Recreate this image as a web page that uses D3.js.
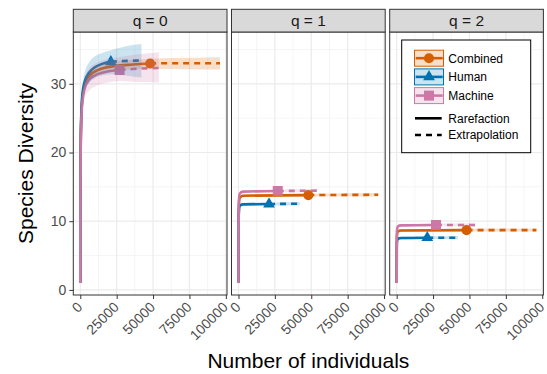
<!DOCTYPE html>
<html>
<head>
<meta charset="utf-8">
<script src="https://cdn.jsdelivr.net/npm/d3@7"></script>
<style>
  body { margin: 0; background: #fff; }
  text { font-family: "Liberation Sans", Arial, Helvetica, sans-serif; }
</style>
</head>
<body>
<script>
  var w = 547; //svg width
  var h = 374; //svg height

  //DATA
  var facets = ["q = 0", "q = 1", "q = 2"];
  var sites = ["Combined", "Human", "Machine"];
  var siteColors = ["#D55E00", "#0072B2", "#CC79A7"];
  var siteShapes = [d3.symbolCircle, d3.symbolTriangle, d3.symbolSquare];
  var sampleSize = [48000, 21000, 27000]; //reference sample sizes
  var methods = ["Rarefaction", "Extrapolation"];
  var xTicks = [0, 25000, 50000, 75000, 100000];
  var yTicks = [0, 10, 20, 30];

  //rows are [m, qD, lower CI, upper CI]
  var combinedQ0 = [[1, 1, 1, 1], [100, 13.5, 13, 14], [300, 21, 20.4, 21.6], [700, 25, 24.4, 25.6],
      [1500, 28, 27.3, 28.7], [3000, 29.9, 29.2, 30.6], [6000, 31.1, 30.4, 31.8], [12000, 32, 31.3, 32.7],
      [24000, 32.6, 31.9, 33.3], [36000, 32.8, 32.1, 33.5], [48000, 32.95, 32.2, 33.65],
      [64000, 33, 32.15, 33.75], [80000, 33, 32.1, 33.8], [96000, 33, 32.1, 33.85]];
  var humanQ0 = [[1, 1, 1, 1], [100, 14, 13, 15], [300, 21.5, 20.5, 22.5], [700, 25.5, 24.5, 26.5],
      [1500, 28.5, 27.3, 29.7], [3000, 30.3, 29, 31.6], [6000, 31.6, 30.1, 33.1], [10000, 32.4, 30.8, 34],
      [15000, 32.9, 31.2, 34.5], [21000, 33.2, 31.4, 34.9], [28000, 33.3, 31.3, 35.3],
      [35000, 33.35, 31.1, 35.6], [42000, 33.4, 30.9, 35.8]];
  var machineQ0 = [[1, 1, 1, 1], [100, 13, 12.5, 13.5], [300, 20.5, 19.5, 21.5], [700, 24.5, 23.5, 25.5],
      [1500, 27.5, 26.3, 28.7], [3000, 29.3, 27.9, 30.7], [6000, 30.6, 29, 32.2], [12000, 31.4, 29.8, 33.1],
      [19000, 31.8, 30.2, 33.6], [27000, 32, 30.4, 33.9], [36000, 32.15, 30.3, 34.2],
      [45000, 32.25, 30.25, 34.4], [54000, 32.3, 30.2, 34.6]];

  var combinedQ1 = [[1, 1, 1, 1], [50, 8.5, 8.3, 8.7], [200, 12, 11.8, 12.2], [800, 13.4, 13.2, 13.6],
      [3000, 13.7, 13.5, 13.9], [48000, 13.8, 13.6, 14], [96000, 13.85, 13.6, 14.1]];
  var humanQ1 = [[1, 1, 1, 1], [50, 8, 7.8, 8.2], [200, 11, 10.8, 11.2], [800, 12.2, 12, 12.4],
      [3000, 12.45, 12.25, 12.65], [21000, 12.5, 12.3, 12.7], [42000, 12.55, 12.3, 12.8]];
  var machineQ1 = [[1, 1, 1, 1], [50, 9, 8.8, 9.2], [200, 12.6, 12.4, 12.8], [800, 14, 13.8, 14.2],
      [3000, 14.3, 14.1, 14.5], [27000, 14.4, 14.2, 14.6], [54000, 14.45, 14.2, 14.7]];

  var combinedQ2 = [[1, 1, 1, 1], [50, 6.5, 6.3, 6.7], [200, 8, 7.8, 8.2], [800, 8.5, 8.3, 8.7],
      [3000, 8.65, 8.45, 8.85], [48000, 8.7, 8.5, 8.9], [96000, 8.7, 8.5, 8.95]];
  var humanQ2 = [[1, 1, 1, 1], [50, 5.8, 5.6, 6], [200, 7, 6.8, 7.2], [800, 7.45, 7.25, 7.65],
      [3000, 7.55, 7.35, 7.75], [21000, 7.6, 7.4, 7.8], [42000, 7.6, 7.35, 7.85]];
  var machineQ2 = [[1, 1, 1, 1], [50, 7, 6.8, 7.2], [200, 8.7, 8.5, 8.9], [800, 9.25, 9.05, 9.45],
      [3000, 9.4, 9.2, 9.6], [27000, 9.45, 9.25, 9.65], [54000, 9.45, 9.2, 9.7]];

  var curves = [[combinedQ0, humanQ0, machineQ0],
      [combinedQ1, humanQ1, machineQ1],
      [combinedQ2, humanQ2, machineQ2]];

  //LAYOUT
  var panelLeft = 73.3;
  var panelTop = 32;
  var panelW = 153.7;
  var panelH = 263;
  var panelGap = 4.5;
  var stripH = 22.7;

  //SCALES (ggplot style 5% expansion)
  var allRows = d3.merge(d3.merge(curves));
  var xExt = d3.extent(allRows, function(d) { return d[0]; });
  var yExt = [d3.min(allRows, function(d) { return d[2]; }), d3.max(allRows, function(d) { return d[3]; })];
  var xPad = (xExt[1] - xExt[0]) * 0.05;
  var yPad = (yExt[1] - yExt[0]) * 0.05;

  var x = d3.scaleLinear()
      .domain([xExt[0] - xPad, xExt[1] + xPad])
      .range([0, panelW]);

  var y = d3.scaleLinear()
      .domain([yExt[0] - yPad, yExt[1] + yPad])
      .range([panelH, 0]);

  var xMinor = [12500, 37500, 62500, 87500];
  var yMinor = [5, 15, 25, 35];

  var line = d3.line()
      .x(function(d) { return x(d[0]); })
      .y(function(d) { return y(d[1]); })
      .curve(d3.curveMonotoneX);

  var band = d3.area()
      .x(function(d) { return x(d[0]); })
      .y0(function(d) { return y(d[2]); })
      .y1(function(d) { return y(d[3]); })
      .curve(d3.curveMonotoneX);

  var shapeSizes = [80, 60, 100];
  var symbol = function(i) {
      return d3.symbol().type(siteShapes[i]).size(shapeSizes[i])();
  };

  var svg = d3.select("body")
      .append("svg")
      .attr("width", w)
      .attr("height", h);

  svg.append("rect").attr("width", w).attr("height", h).attr("fill", "white");

  //PANELS
  facets.forEach(function(facet, fi) {
      var g = svg.append("g")
          .attr("transform", "translate(" + (panelLeft + fi * (panelW + panelGap)) + "," + panelTop + ")");

      //grid
      g.selectAll(".xminor").data(xMinor).enter().append("line")
          .attr("x1", function(d) { return x(d); }).attr("x2", function(d) { return x(d); })
          .attr("y1", 0).attr("y2", panelH)
          .attr("stroke", "#F2F2F2").attr("stroke-width", 0.8);
      g.selectAll(".yminor").data(yMinor).enter().append("line")
          .attr("y1", function(d) { return y(d); }).attr("y2", function(d) { return y(d); })
          .attr("x1", 0).attr("x2", panelW)
          .attr("stroke", "#F2F2F2").attr("stroke-width", 0.8);
      g.selectAll(".xmajor").data(xTicks).enter().append("line")
          .attr("x1", function(d) { return x(d); }).attr("x2", function(d) { return x(d); })
          .attr("y1", 0).attr("y2", panelH)
          .attr("stroke", "#EBEBEB").attr("stroke-width", 1.2);
      g.selectAll(".ymajor").data(yTicks).enter().append("line")
          .attr("y1", function(d) { return y(d); }).attr("y2", function(d) { return y(d); })
          .attr("x1", 0).attr("x2", panelW)
          .attr("stroke", "#EBEBEB").attr("stroke-width", 1.2);

      var sets = curves[fi];

      //lines: rarefaction solid, extrapolation dashed
      sets.forEach(function(rows, si) {
          var n = sampleSize[si];
          var rare = rows.filter(function(d) { return d[0] <= n; });
          var extra = rows.filter(function(d) { return d[0] >= n; });
          g.append("path").datum(rare)
              .attr("d", line)
              .attr("fill", "none")
              .attr("stroke", siteColors[si])
              .attr("stroke-width", 2.6);
          g.append("path").datum(extra)
              .attr("d", line)
              .attr("fill", "none")
              .attr("stroke", siteColors[si])
              .attr("stroke-width", 2.6)
              .attr("stroke-dasharray", "6,5");
      });

      //observed points
      sets.forEach(function(rows, si) {
          var obs = rows.filter(function(d) { return d[0] === sampleSize[si]; })[0];
          g.append("path")
              .attr("d", symbol(si))
              .attr("transform", "translate(" + x(obs[0]) + "," + y(obs[1]) + ")")
              .attr("fill", siteColors[si]);
      });

      //confidence bands
      sets.forEach(function(rows, si) {
          g.append("path").datum(rows)
              .attr("d", band)
              .attr("fill", siteColors[si])
              .attr("fill-opacity", 0.2);
      });

      //panel border
      g.append("rect")
          .attr("width", panelW).attr("height", panelH)
          .attr("fill", "none").attr("stroke", "#333333").attr("stroke-width", 1);

      //strip
      g.append("rect")
          .attr("y", -stripH).attr("width", panelW).attr("height", stripH)
          .attr("fill", "#D9D9D9").attr("stroke", "#333333").attr("stroke-width", 1);
      g.append("text")
          .attr("x", panelW / 2).attr("y", -stripH / 2)
          .attr("dy", "0.36em")
          .attr("text-anchor", "middle")
          .attr("font-size", "15.5px")
          .attr("fill", "#1A1A1A")
          .text(facet);

      //x axis
      var xAxis = g.append("g")
          .attr("transform", "translate(0," + panelH + ")")
          .call(d3.axisBottom(x).tickValues(xTicks).tickSize(4).tickFormat(d3.format("d")));
      xAxis.select(".domain").remove();
      xAxis.selectAll("line").attr("stroke", "#333333");
      xAxis.selectAll("text")
          .attr("x", 0).attr("y", 0).attr("dy", 0)
          .attr("transform", "translate(2.5,13) rotate(-45)")
          .attr("text-anchor", "end")
          .attr("font-size", "14px")
          .attr("fill", "#4D4D4D");

      //y axis on first panel only
      if (fi === 0) {
          var yAxis = g.append("g")
              .call(d3.axisLeft(y).tickValues(yTicks).tickSize(4).tickPadding(3));
          yAxis.select(".domain").remove();
          yAxis.selectAll("line").attr("stroke", "#333333");
          yAxis.selectAll("text")
              .attr("font-size", "14px")
              .attr("fill", "#4D4D4D");
      }
  });

  //AXIS TITLES
  var plotRight = panelLeft + 3 * panelW + 2 * panelGap;
  svg.append("text")
      .attr("x", (panelLeft + plotRight) / 2)
      .attr("y", 368)
      .attr("text-anchor", "middle")
      .attr("font-size", "21px")
      .attr("fill", "black")
      .text("Number of individuals");

  svg.append("text")
      .attr("transform", "translate(32.5," + (panelTop + panelH / 2) + ") rotate(-90)")
      .attr("text-anchor", "middle")
      .attr("font-size", "21px")
      .attr("fill", "black")
      .text("Species Diversity");

  //LEGEND
  var legend = svg.append("g").attr("transform", "translate(401.7,40)");
  legend.append("rect")
      .attr("width", 129).attr("height", 112.7)
      .attr("fill", "white").attr("stroke", "black").attr("stroke-width", 1);

  sites.forEach(function(site, i) {
      var cy = 18.2 + i * 18.7;
      legend.append("rect")
          .attr("x", 12.8).attr("y", cy - 8).attr("width", 29).attr("height", 16)
          .attr("fill", siteColors[i]).attr("fill-opacity", 0.2)
          .attr("stroke", siteColors[i]).attr("stroke-width", 1);
      legend.append("line")
          .attr("x1", 14).attr("x2", 41).attr("y1", cy).attr("y2", cy)
          .attr("stroke", siteColors[i]).attr("stroke-width", 2.6);
      legend.append("path")
          .attr("d", symbol(i))
          .attr("transform", "translate(27.3," + cy + ")")
          .attr("fill", siteColors[i]);
      legend.append("text")
          .attr("x", 46.6).attr("y", cy).attr("dy", "0.36em")
          .attr("font-size", "12px").attr("fill", "black")
          .text(site);
  });

  methods.forEach(function(method, i) {
      var cy = 78.3 + i * 16.7;
      legend.append("line")
          .attr("x1", 13.3).attr("x2", 40).attr("y1", cy).attr("y2", cy)
          .attr("stroke", "black").attr("stroke-width", 2.6)
          .attr("stroke-dasharray", i === 1 ? "6,5" : null);
      legend.append("text")
          .attr("x", 46.6).attr("y", cy).attr("dy", "0.36em")
          .attr("font-size", "12px").attr("fill", "black")
          .text(method);
  });
</script>
</body>
</html>
